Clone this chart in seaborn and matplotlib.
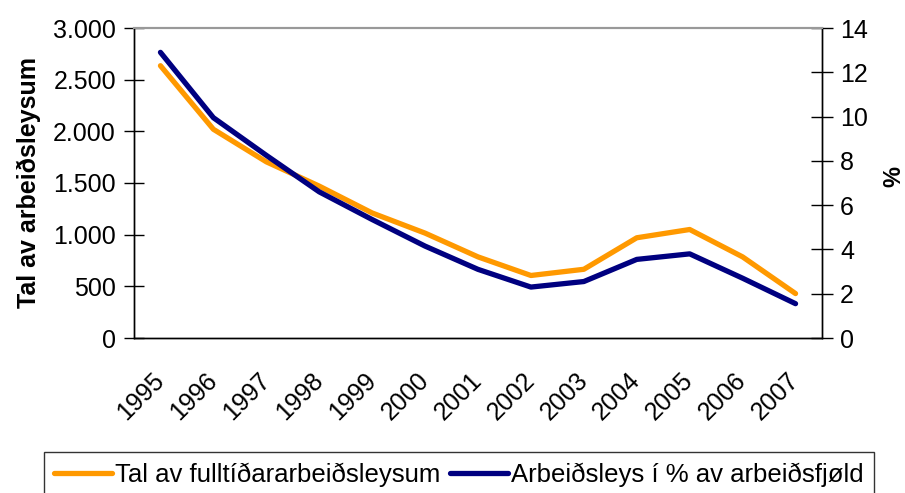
import numpy as np
import pandas as pd
import matplotlib
matplotlib.use("Agg")
import matplotlib.pyplot as plt
import matplotlib.transforms as mtransforms
import seaborn as sns
from matplotlib.ticker import FuncFormatter

years = ["1995", "1996", "1997", "1998", "1999", "2000", "2001",
         "2002", "2003", "2004", "2005", "2006", "2007"]
tal = [2635, 2020, 1705, 1470, 1210, 1015, 785, 605, 665, 970, 1050, 785, 430]
pct = [12.9, 9.95, 8.25, 6.6, 5.35, 4.15, 3.1, 2.3, 2.55, 3.55, 3.8, 2.7, 1.55]

label_tal = "Tal av fulltíðararbeiðsleysum"
label_pct = "Arbeiðsleys í % av arbeiðsfjøld"

sns.set_style("white")
plt.rcParams["font.family"] = ["Liberation Sans", "DejaVu Sans"]
plt.rcParams["text.color"] = "black"
plt.rcParams["xtick.color"] = "black"
plt.rcParams["ytick.color"] = "black"
plt.rcParams["axes.labelcolor"] = "black"

df = pd.DataFrame({"pos": np.arange(len(years)), "ar": years, "tal": tal, "pct": pct})

fig = plt.figure(figsize=(9.05, 4.93), dpi=100)
ax = fig.add_axes([134 / 905, 1 - 338 / 493, (822 - 134) / 905, (338 - 28) / 493])
ax2 = ax.twinx()

sns.lineplot(data=df, x="pos", y="tal", ax=ax, color="#FF9900", linewidth=3.8,
             label=label_tal, legend=False)
sns.lineplot(data=df, x="pos", y="pct", ax=ax2, color="#000080", linewidth=3.8,
             label=label_pct, legend=False)

ax.set_xlim(-0.5, len(years) - 0.5)
ax.set_ylim(0, 3000)
ax2.set_ylim(0, 14)
ax.set_yticks(range(0, 3001, 500))
ax2.set_yticks(range(0, 15, 2))
ax.yaxis.set_major_formatter(FuncFormatter(lambda v, p: f"{v:,.0f}".replace(",", ".")))

# ticks on category boundaries, labels in the middle
ax.set_xticks(np.arange(-0.5, len(years), 1.0))
ax.set_xticklabels([])
ax.set_xticks(np.arange(len(years)), minor=True)
ax.set_xticklabels(years, minor=True, rotation=45, ha="right", va="center",
                   rotation_mode="anchor", fontsize=18)
shift = mtransforms.ScaledTranslation(-4 / 100, -1 / 100, fig.dpi_scale_trans)
for t in ax.get_xticklabels(minor=True):
    t.set_transform(t.get_transform() + shift)
ax.tick_params(axis="x", which="major", direction="inout", length=12, width=1)
ax.tick_params(axis="x", which="minor", length=0, pad=28)
ax.tick_params(axis="y", direction="inout", length=14, width=1, labelsize=18, pad=6)
ax2.tick_params(axis="y", direction="inout", length=16, width=1, labelsize=18, pad=5)

ax.set_xlabel("")
ax.set_ylabel("Tal av arbeiðsleysum", fontsize=18, fontweight="bold", labelpad=9)
ax2.set_ylabel("%", fontsize=17, fontweight="bold")
ax2.yaxis.set_label_coords(1.088, 0.52)

for a in (ax, ax2):
    for s in a.spines.values():
        s.set_color("black")
        s.set_linewidth(1)
    a.spines["top"].set_color("#999999")
    a.spines["top"].set_linewidth(1.5)

h1, l1 = ax.get_legend_handles_labels()
h2, l2 = ax2.get_legend_handles_labels()
leg = fig.legend(h1 + h2, l1 + l2, loc="upper left", bbox_to_anchor=(44 / 905, 1 - 452 / 493),
                 ncol=2, fontsize=18.5, frameon=True, fancybox=False, edgecolor="black",
                 handlelength=2.25, handletextpad=0.1, columnspacing=0.4,
                 borderpad=0.4, borderaxespad=0)
leg.get_frame().set_linewidth(1)

fig.savefig("out.png", dpi=100)
